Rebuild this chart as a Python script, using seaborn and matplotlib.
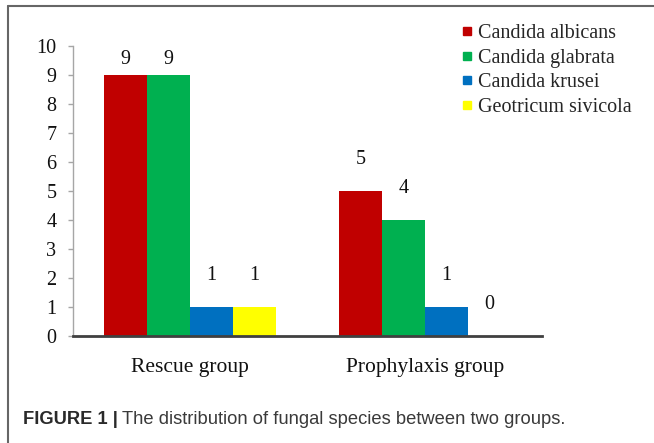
import pandas as pd
import matplotlib.pyplot as plt
from matplotlib.lines import Line2D
import seaborn as sns

# data
groups = ['Rescue group', 'Prophylaxis group']
species = ['Candida albicans', 'Candida glabrata', 'Candida krusei', 'Geotricum sivicola']
rescue_counts = [9, 9, 1, 1]
prophylaxis_counts = [5, 4, 1, 0]
colors = ['#C00000', '#00B050', '#0070C0', '#FFFF00']

rows = []
for sp, r, p in zip(species, rescue_counts, prophylaxis_counts):
    rows.append({'group': groups[0], 'species': sp, 'count': r})
    rows.append({'group': groups[1], 'species': sp, 'count': p})
df = pd.DataFrame(rows)

sns.set_theme(style='white')
plt.rcParams['font.family'] = ['Liberation Serif', 'DejaVu Serif']

fig = plt.figure(figsize=(6.54, 4.43), dpi=100)
ax = fig.add_axes([0.111, 0.2415, 0.718, 0.6545])

sns.barplot(data=df, x='group', y='count', hue='species', order=groups,
            hue_order=species, palette=colors, saturation=1, width=0.73,
            linewidth=0, legend=False, ax=ax)

# value labels; the tallest ones sit closer to the bar (clamped near the top)
for cont in ax.containers:
    for bar in cont:
        h = bar.get_height()
        pad = 16 if h < 9 else 4.3
        ax.annotate(f'{h:.0f}', (bar.get_x() + bar.get_width() / 2, h),
                    xytext=(0, pad), textcoords='offset points',
                    ha='center', va='bottom', fontsize=14.5, color='#111111',
                    annotation_clip=False)

ax.set_xlim(-0.5, 1.5)
ax.set_ylim(0, 10)
ax.set_yticks(range(0, 11))
ax.set_xlabel('')
ax.set_ylabel('')
ax.tick_params(axis='y', which='major', length=3.6, width=1, color='#a6a6a6',
               pad=8, labelsize=14.5, labelcolor='#111111', left=True)
ax.tick_params(axis='x', length=0, pad=16, labelsize=15.5, labelcolor='#111111')
for s in ['top', 'right']:
    ax.spines[s].set_visible(False)
ax.spines['left'].set_color('#a6a6a6')
ax.spines['left'].set_linewidth(1)
ax.spines['bottom'].set_color('#404040')
ax.spines['bottom'].set_linewidth(2)

# legend with small square markers, Excel style
handles = [Line2D([], [], marker='s', linestyle='', markersize=6,
                  markerfacecolor=c, markeredgecolor=c) for c in colors]
fig.legend(handles, species, loc='upper left',
           bbox_to_anchor=(461 / 654, 1 - 24 / 443), frameon=False,
           fontsize=14.5, handlelength=0.6, handletextpad=0.25,
           labelspacing=0.27, borderpad=0, borderaxespad=0)

# frame lines on top and left
fig.add_artist(Line2D([8 / 654, 8 / 654], [0, 1 - 6 / 443],
                      color='#666666', linewidth=1.5, transform=fig.transFigure))
fig.add_artist(Line2D([8 / 654, 1], [1 - 6 / 443, 1 - 6 / 443],
                      color='#666666', linewidth=1.5, transform=fig.transFigure))

# caption
cap_y = 1 - 420 / 443
t1 = fig.text(23 / 654, cap_y, 'FIGURE 1 |', family='Liberation Sans',
              weight='bold', fontsize=13.2, color='#2a2a2a', va='center')
renderer = fig.canvas.get_renderer()
bb = t1.get_window_extent(renderer)
fig.text((bb.x1 + 4) / 654, cap_y,
         'The distribution of fungal species between two groups.',
         family='Liberation Sans', fontsize=13.2, color='#3a3a3a', va='center')

fig.savefig('out.png', dpi=100)
